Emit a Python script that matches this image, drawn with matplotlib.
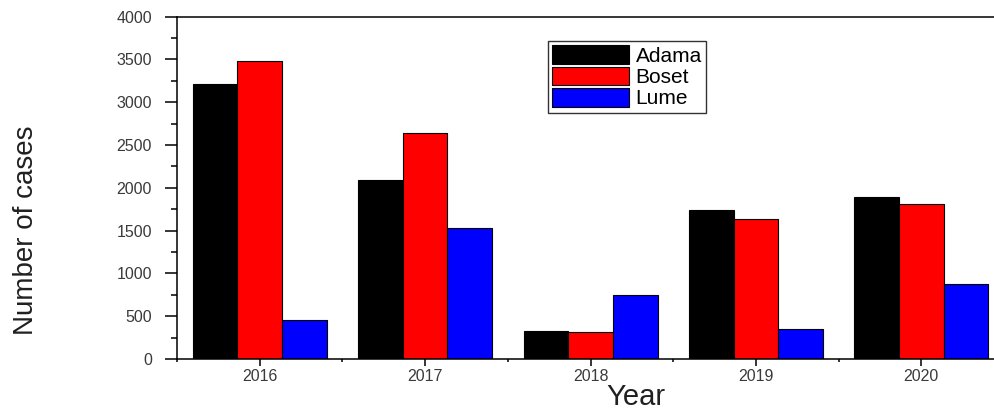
import matplotlib
matplotlib.use('Agg')
import numpy as np
import matplotlib.pyplot as plt
from matplotlib.ticker import MultipleLocator

# data
years = [2016, 2017, 2018, 2019, 2020]
adama = [3210, 2090, 330, 1740, 1895]
boset = [3480, 2645, 315, 1635, 1810]
lume = [455, 1530, 750, 350, 875]

series = [('Adama', adama, '#000000'),
          ('Boset', boset, '#ff0000'),
          ('Lume', lume, '#0000ff')]

plt.rcParams['font.family'] = ['Liberation Sans', 'DejaVu Sans']

fig = plt.figure(figsize=(9.95, 4.11), dpi=100)
# right edge of the axes sits just outside the picture, as in the reference
ax = fig.add_axes([0.1779, 0.1265, 0.8312, 0.8333])

w = 0.27
x = np.array(years, dtype=float)
for i, (name, vals, col) in enumerate(series):
    ax.bar(x + (i - 1) * w, vals, width=w, color=col, edgecolor='black',
           linewidth=0.8, label=name)

ax.set_xlim(2015.5, 2020.5)
ax.set_ylim(0, 4000)
ax.set_xticks(years)
ax.set_xticklabels([str(y) for y in years])
ax.set_xticks([y - 0.5 for y in years] + [2020.5], minor=True)
ax.yaxis.set_major_locator(MultipleLocator(500))
ax.yaxis.set_minor_locator(MultipleLocator(250))

for s in ax.spines.values():
    s.set_linewidth(1.1)

ax.tick_params(axis='y', which='major', direction='out', length=9, width=1.1,
               pad=9, labelsize=11.5, labelcolor='#3a3a3a')
ax.tick_params(axis='y', which='minor', direction='out', length=4, width=1.1)
ax.tick_params(axis='x', which='major', direction='out', length=5, width=1.1,
               pad=2.5, labelsize=11.5, labelcolor='#3a3a3a')
ax.tick_params(axis='x', which='minor', direction='out', length=2.5, width=1.1)

# axis titles
fig.text(636 / 995, 1 - 405 / 411, 'Year', fontsize=21, color='#202020',
         ha='center', va='baseline')
fig.text(26 / 995, 1 - 230 / 411, 'Number of cases', fontsize=20,
         color='#202020', rotation=90, ha='center', va='center')

leg = ax.legend(loc='upper left', bbox_to_anchor=(0.4486, 0.928),
                fontsize=15, handlelength=3.7, handleheight=1.0,
                handletextpad=0.3, labelspacing=0.04, borderpad=0.2,
                borderaxespad=0, fancybox=False, framealpha=1,
                edgecolor='#333333')
leg.get_frame().set_linewidth(1.0)

fig.savefig('out.png', dpi=100)
